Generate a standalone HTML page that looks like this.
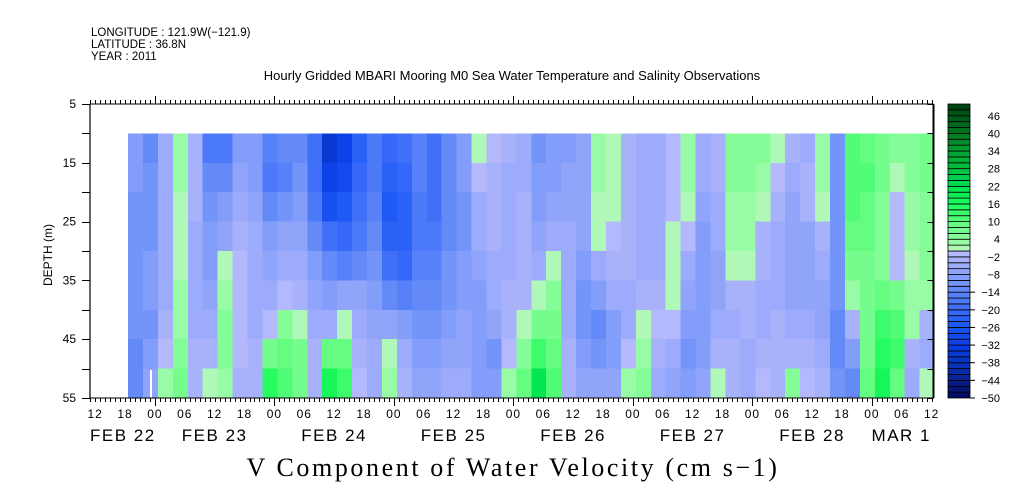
<!DOCTYPE html>
<html><head><meta charset="utf-8"><style>
body{margin:0;background:#fff;width:1009px;height:504px;overflow:hidden}
svg{display:block;font-family:"Liberation Sans",sans-serif}
</style></head><body>
<svg id="chart" width="1009" height="504" viewBox="0 0 1009 504" xmlns="http://www.w3.org/2000/svg">
<g font-size="11.5" fill="#000">
<text x="91" y="36">LONGITUDE : 121.9W(−121.9)</text>
<text x="91" y="48">LATITUDE : 36.8N</text>
<text x="91" y="60">YEAR : 2011</text>
</g>
<text x="512" y="80" font-size="13" text-anchor="middle">Hourly Gridded MBARI Mooring M0 Sea Water Temperature and Salinity Observations</text>
<g id="cells" shape-rendering="crispEdges"></g>
<g id="axes"></g>
<g id="cbar"></g>
<text x="52" y="255" font-size="12" text-anchor="middle" transform="rotate(-90 52 255)">DEPTH (m)</text>
<text x="513" y="476" font-size="26" text-anchor="middle" font-family="Liberation Serif, serif" letter-spacing="2.6">V Component of Water Velocity (cm s−1)</text>
</svg>
<script>
// depth rows (m), centre of each band
const depths = [12.5,17.5,22.5,27.5,32.5,37.5,42.5,47.5,52.5];
// column first sample hour (hours since FEB 22 00:00), step 3h
const startHour = 20.1;
const stepHours = 3;
// values per column, top (12.5m) to bottom (52.5m), cm/s
const vData = [
[-10,-10,-12,-12,-12,-12,-12,-14,-14],
[-14,-12,-12,-12,-10,-10,-12,-10,-8],
[-6,-6,-6,-6,-6,-6,-4,-2,2],
[2,2,0,0,0,2,2,4,6],
[-4,-4,-4,-6,-6,-6,-6,-4,-4],
[-18,-14,-12,-10,-10,-8,-6,-4,0],
[-18,-14,-10,-8,0,2,4,4,2],
[-10,-8,-6,-4,-2,-2,-2,-2,-4],
[-10,-10,-8,-6,-6,-6,-6,-4,-4],
[-16,-18,-14,-10,-8,-6,-2,6,14],
[-14,-16,-12,-8,-6,-2,4,8,10],
[-14,-12,-10,-8,-6,-4,0,6,6],
[-20,-20,-18,-14,-10,-8,-6,-4,-4],
[-36,-32,-28,-20,-14,-10,-6,8,16],
[-32,-30,-26,-22,-16,-8,0,8,12],
[-24,-22,-20,-18,-14,-8,-6,-4,-2],
[-18,-18,-16,-14,-12,-10,-8,-6,-6],
[-22,-24,-26,-24,-20,-14,-8,0,2],
[-20,-22,-24,-24,-22,-16,-10,-6,-4],
[-16,-16,-18,-18,-16,-14,-12,-10,-8],
[-20,-20,-20,-18,-16,-14,-12,-10,-8],
[-14,-14,-14,-14,-12,-12,-10,-8,-6],
[-10,-10,-12,-12,-10,-10,-8,-8,-6],
[0,-2,-6,-6,-8,-10,-10,-10,-10],
[-2,-4,-4,-4,-6,-6,-8,-12,-10],
[-4,-6,-6,-6,-6,-4,-4,-2,2],
[-6,-6,-4,-4,-4,-4,0,4,8],
[-12,-10,-10,-8,-6,0,6,12,20],
[-10,-10,-8,-6,0,4,6,8,10],
[-10,-8,-8,-6,-6,-6,-6,-4,-4],
[-8,-8,-8,-8,-10,-12,-12,-10,-8],
[2,2,0,0,-6,-10,-14,-12,-8],
[0,0,0,-2,-4,-6,-10,-10,-8],
[-4,-4,-4,-4,-4,-6,-6,-2,2],
[-6,-6,-6,-6,-6,-4,0,2,4],
[-6,-6,-6,-6,-6,-4,-2,-4,-6],
[-2,-2,-2,0,0,0,-2,-6,-8],
[2,2,0,-2,-6,-8,-10,-12,-10],
[-6,-6,-8,-10,-10,-10,-10,-10,-8],
[-4,-4,-6,-6,-8,-8,-6,-4,0],
[4,4,2,2,0,-4,-6,-4,-4],
[4,4,2,2,0,-4,-4,-6,-6],
[4,2,0,-4,-4,-6,-6,-4,-2],
[0,-2,-4,-6,-6,-6,-4,-4,-4],
[-4,-6,-8,-8,-8,-8,-6,-4,4],
[-6,-4,-4,-8,-8,-8,-6,-4,-2],
[2,2,0,-4,-6,-8,-8,-6,-4],
[-12,-12,-12,-12,-12,-12,-14,-14,-12],
[10,10,10,8,6,2,-4,-10,-14],
[8,10,8,8,6,6,6,6,8],
[6,6,4,4,4,8,12,14,16],
[4,0,-2,-2,-2,6,10,12,8],
[4,4,2,2,0,2,2,-4,-6],
[6,6,4,4,4,2,-4,-6,0]
];
const depthTicks = [5,15,25,35,45,55];
const hourLabels = ["12","18","00","06","12","18","00","06","12","18","00","06","12","18","00","06","12","18","00","06","12","18","00","06","12","18","00","06","12"];
const dayLabels = ["FEB 22","FEB 23","FEB 24","FEB 25","FEB 26","FEB 27","FEB 28","MAR  1"];
const cbarLabels = [46,40,34,28,22,16,10,4,-2,-8,-14,-20,-26,-32,-38,-44,-50];

const NS="http://www.w3.org/2000/svg";
const X0=90,X1=933.5,Y0=104,Y1=398;
const xOf=h=>154.9+(h-24)*4.979;
const yOf=d=>Y0+(d-5)*(Y1-Y0)/50;
const cbY=v=>Y1-(v+50)*(Y1-Y0)/100;
const stops=[[-50,[0,10,90]],[-44,[10,32,144]],[-38,[5,52,192]],[-32,[10,62,230]],[-26,[26,85,245]],[-20,[58,108,248]],[-14,[92,133,248]],[-8,[138,162,250]],[-1,[180,184,252]],[1,[176,248,184]],[4,[140,252,156]],[10,[92,252,124]],[16,[28,252,92]],[22,[0,224,80]],[28,[0,192,64]],[34,[0,160,48]],[40,[0,120,32]],[46,[0,88,24]],[50,[0,64,16]]];
function color(v){
  v=Math.max(-50,Math.min(49.9,v));
  const q=Math.floor(v/2)*2+1;
  for(let i=0;i<stops.length-1;i++){
    const [a,ca]=stops[i],[b,cb]=stops[i+1];
    if(q>=a&&q<=b){const t=(q-a)/(b-a);return `rgb(${ca.map((c,k)=>Math.round(c+(cb[k]-c)*t)).join(',')})`;}
  }
  return q<0?'rgb(0,10,90)':'rgb(0,64,16)';
}
function mk(tag,attrs,parent){const e=document.createElementNS(NS,tag);for(const k in attrs)e.setAttribute(k,attrs[k]);parent.appendChild(e);return e;}

const cells=document.getElementById('cells');
vData.forEach((col,i)=>{
  const t=startHour+i*stepHours;
  const xa=Math.max(xOf(t-stepHours/2),128), xb=Math.min(xOf(t+stepHours/2),X1);
  col.forEach((v,j)=>{
    const ya=yOf(depths[j]-2.5), yb=yOf(depths[j]+2.5);
    const r=mk('rect',{x:xa,y:ya,width:xb-xa+0.6,height:yb-ya+0.6,fill:color(v)},cells);
    
    
  });
});
const gap=mk('rect',{x:150,y:370,width:2,height:28,fill:'#fff'},cells);



const ax=document.getElementById('axes');
const ln=(x1,y1,x2,y2,w)=>mk('line',{x1,y1,x2,y2,stroke:'#000','stroke-width':w||1},ax);
ln(X0,Y0,X1,Y0);ln(X0,Y1,X1,Y1);ln(X0,Y0,X0,Y1,1.2);ln(X1,Y0,X1,Y1,2);
for(let h=11;h<=180;h++){
  const x=Math.round(xOf(h))+0.5, major=(h%24===0);
  ln(x,Y0,x,Y0-(major?8:4));ln(x,Y1,x,Y1+(major?8:4));
}
for(let d=5;d<=55;d+=5){
  const y=Math.round(yOf(d))+0.5;
  ln(X0-8,y,X0,y);ln(X1-6,y,X1,y);
}
depthTicks.forEach(d=>{
  const t=mk('text',{x:X0-14,y:yOf(d)+4,'font-size':12,'text-anchor':'end'},ax);
  t.textContent=d;
  
  
});
hourLabels.forEach((s,i)=>{
  const t=mk('text',{x:xOf(12+6*i),y:418,'font-size':12,'text-anchor':'middle','letter-spacing':'1'},ax);
  t.textContent=s;
  
  
});
dayLabels.forEach((s,i)=>{
  let x=xOf(12+24*i), anchor='middle';
  if(i===0){x=90;anchor='start';}
  if(i===dayLabels.length-1){x=931;anchor='end';}
  const t=mk('text',{x:x,y:441,'font-size':17,'text-anchor':anchor,'letter-spacing':'1.5','xml:space':'preserve'},ax);
  t.textContent=s;
  
  
});

const cb=document.getElementById('cbar');
for(let v=-50;v<50;v+=2){
  const r=mk('rect',{x:948,y:cbY(v+2),width:22,height:cbY(v)-cbY(v+2),fill:color(v+1),stroke:'#000','stroke-width':0.8},cb);
  
  
}
cbarLabels.forEach(v=>{
  const t=mk('text',{x:1000,y:cbY(v)+4,'font-size':11,'text-anchor':'end'},cb);
  t.textContent=v<0?'−'+(-v):v;
  
  
  if(v<-10) mk('line',{x1:970,y1:cbY(v),x2:975,y2:cbY(v),stroke:'#000'},cb);
});
</script>
</body></html>
